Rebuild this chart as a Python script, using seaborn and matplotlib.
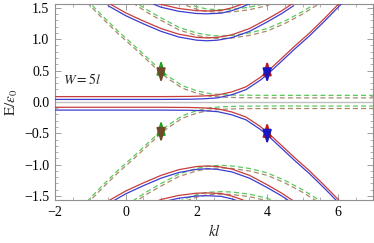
import numpy as np
import pandas as pd
import matplotlib
matplotlib.use("Agg")
import matplotlib.pyplot as plt
import seaborn as sns
from matplotlib.ticker import MultipleLocator

# ---------------- data (upper half E>0) ----------------
# solid bands (red = spin up, blue = spin down); values are the red line
S1_k = [-2.0, 1.0, 1.8, 2.2, 2.6, 3.0, 3.4, 3.8, 4.0, 4.4, 4.8, 5.2, 5.6, 6.0, 6.1]
S1_E = [0.085, 0.085, 0.088, 0.095, 0.11, 0.16, 0.24, 0.39, 0.48, 0.69, 0.90, 1.10, 1.32, 1.55, 1.61]
S2_k = [-0.5, 0.0, 0.5, 1.0, 1.5, 2.0, 2.3, 2.6, 3.0, 3.5, 4.0, 4.4, 4.75]
S2_E = [1.58, 1.42, 1.29, 1.17, 1.08, 1.03, 1.02, 1.03, 1.07, 1.17, 1.32, 1.45, 1.58]
S3_k = [0.8, 1.0, 1.5, 2.0, 2.3, 2.7, 3.0, 3.3, 3.5]
S3_E = [1.60, 1.555, 1.49, 1.455, 1.45, 1.46, 1.50, 1.56, 1.61]

# dashed bands (green / brown)
D1_k = [-1.1, -1.0, -0.6, -0.2, 0.2, 0.6, 1.0, 1.2, 1.6, 2.0, 2.4, 2.8, 3.2, 4.0, 7.0]
D1_E = [1.61, 1.55, 1.32, 1.10, 0.90, 0.69, 0.48, 0.39, 0.24, 0.16, 0.11, 0.095, 0.088, 0.085, 0.085]
D2_k = [0.2, 0.3, 0.6, 1.0, 1.5, 2.0, 2.4, 2.7, 3.0, 3.5, 4.0, 4.5, 5.0, 5.4, 5.5]
D2_E = [1.60, 1.56, 1.45, 1.32, 1.17, 1.08, 1.04, 1.03, 1.04, 1.08, 1.15, 1.27, 1.42, 1.56, 1.60]
D3_k = [1.5, 1.7, 2.0, 2.3, 2.7, 3.0, 3.5, 4.0, 4.2]
D3_E = [1.61, 1.56, 1.50, 1.46, 1.45, 1.455, 1.49, 1.555, 1.60]

# spin splitting offsets of each colour relative to the listed line
OFF_RED, OFF_BLUE = 0.0, -0.045
OFF_GREEN, OFF_BROWN = 0.02, -0.02

# spin arrows: (k, centre, up tip, down tip) for upper and lower half
ARROWS_K = [1.0, 4.0, 1.0, 4.0]
ARROWS_C = [0.48, 0.48, -0.47, -0.50]
ARROWS_UP = [0.67, 0.66, -0.29, -0.32]
ARROWS_DN = [0.30, 0.30, -0.65, -0.68]
ARROW_COLS = [("#22a022", "#6e4a2a"), ("#c01818", "#1818c0"),
              ("#22a022", "#6e4a2a"), ("#c01818", "#1818c0")]

# ---------------- style ----------------
sns.set_theme(style="white")
plt.rcParams["font.family"] = ["Liberation Serif", "DejaVu Serif"]
plt.rcParams["mathtext.fontset"] = "stix"

RED, BLUE = "#c83c3c", "#3c3cd2"
GREEN, BROWN = "#5cc85c", "#a88c6c"

fig = plt.figure(figsize=(3.74, 2.43), dpi=100)
ax = fig.add_axes([0.147, 0.177, 0.851, 0.807])

solid = [(S1_k, S1_E), (S2_k, S2_E), (S3_k, S3_E)]
dashed = [(D1_k, D1_E), (D2_k, D2_E), (D3_k, D3_E)]

ax.axhline(0, color="#c0c0c0", lw=1.0, zorder=1)

for sign in (1, -1):
    for kk, ee in solid:
        ee = np.array(ee) * sign
        for off, col in ((OFF_RED, RED), (OFF_BLUE, BLUE)):
            sns.lineplot(x=kk, y=ee + off, color=col, lw=0.9, sort=False,
                         estimator=None, ax=ax, zorder=3)
    for kk, ee in dashed:
        ee = np.array(ee) * sign
        for off, col in ((OFF_GREEN, GREEN), (OFF_BROWN, BROWN)):
            sns.lineplot(x=kk, y=ee + off, color=col, lw=0.9, sort=False,
                         estimator=None, ax=ax, zorder=2,
                         linestyle=(0, (4, 2.5)))

for k, c, up, dn, (cu, cd) in zip(ARROWS_K, ARROWS_C, ARROWS_UP, ARROWS_DN, ARROW_COLS):
    ax.annotate("", xy=(k, up), xytext=(k, c),
                arrowprops=dict(arrowstyle="-|>,head_length=0.7,head_width=0.22",
                                color=cu, lw=1.4, shrinkA=0, shrinkB=0), zorder=5)
    ax.annotate("", xy=(k, dn), xytext=(k, c),
                arrowprops=dict(arrowstyle="-|>,head_length=0.7,head_width=0.22",
                                color=cd, lw=1.4, shrinkA=0, shrinkB=0), zorder=5)

ax.text(-1.78, 0.35, r"$W=5l$", fontsize=10, ha="left", va="center")

ax.set_xlim(-2, 7)
ax.set_ylim(-1.563, 1.563)
ax.xaxis.set_major_locator(MultipleLocator(2))
ax.xaxis.set_minor_locator(MultipleLocator(0.5))
ax.yaxis.set_major_locator(MultipleLocator(0.5))
ax.yaxis.set_minor_locator(MultipleLocator(0.1))
ax.set_xticks([-2, 0, 2, 4, 6])
ax.set_xticklabels(["\u22122", "0", "2", "4", "6"])
ax.set_yticks([-1.5, -1.0, -0.5, 0.0, 0.5, 1.0, 1.5])
ax.set_yticklabels(["\u22121.5", "\u22121.0", "\u22120.5", "0.0", "0.5", "1.0", "1.5"])
ax.tick_params(which="both", direction="in", top=True, right=True, bottom=True, left=True,
               color="#909090", labelsize=10, labelcolor="black", pad=4)
ax.tick_params(which="major", length=4, width=0.6)
ax.tick_params(which="minor", length=2, width=0.5)
for sp in ax.spines.values():
    sp.set_color("#909090")
    sp.set_linewidth(0.8)

ax.set_xlabel(r"$kl$", fontsize=11)
ax.set_ylabel(r"$\mathrm{E}/\epsilon_0$", fontsize=11)
ax.xaxis.set_label_coords(0.5, -0.115)
ax.yaxis.set_label_coords(-0.11, 0.5)

fig.savefig("out.png", dpi=100)
